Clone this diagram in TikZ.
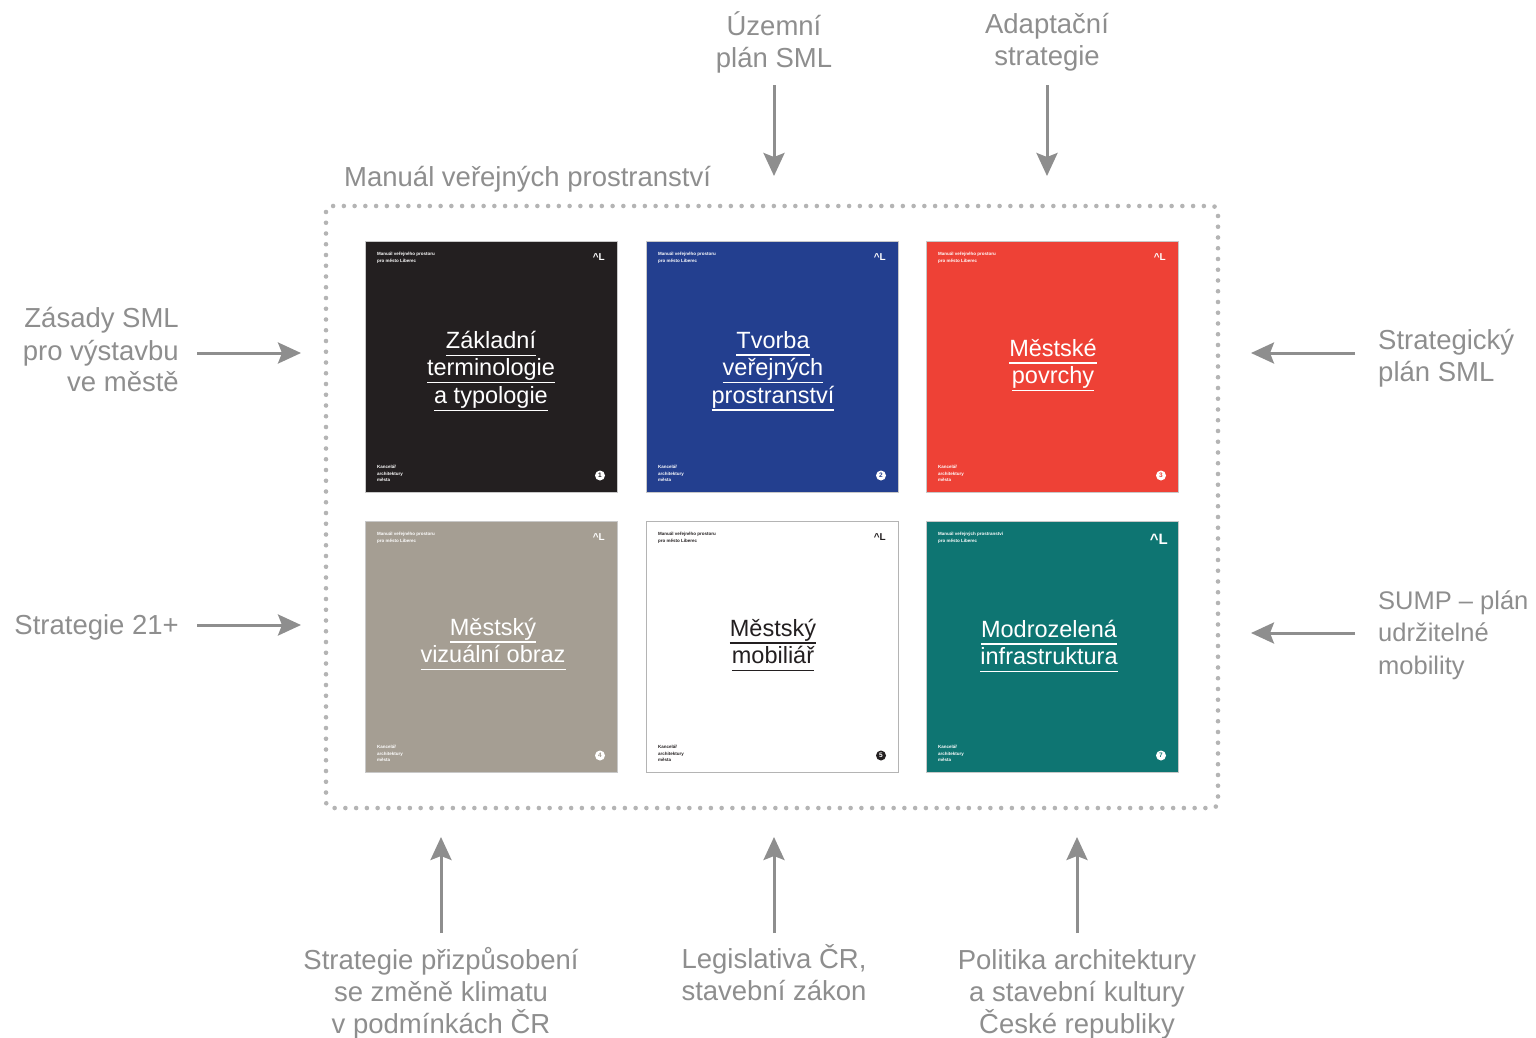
\documentclass[tikz,border=0pt]{standalone}
\usepackage{fontspec}
\setmainfont{Liberation Sans}
\usetikzlibrary{arrows.meta}

\definecolor{labelgray}{HTML}{8E8E8E}
\definecolor{dotgray}{HTML}{B4B4B4}
\definecolor{coverline}{HTML}{C8C8C8}
\definecolor{coverblack}{HTML}{231F20}
\definecolor{coverblue}{HTML}{233F8F}
\definecolor{coverred}{HTML}{EE4136}
\definecolor{coverbeige}{HTML}{A59E93}
\definecolor{coverteal}{HTML}{0E7572}

% underlined title line, rule at a fixed depth
\newcommand{\ulword}[1]{\setbox0\hbox{#1}\rlap{\rule[-7.5pt]{\wd0}{1.3pt}}\box0}

\begin{document}
\begin{tikzpicture}
[x=1pt, y=-1pt, every node/.style={inner sep=0pt},
 sidetext/.style={text=labelgray, font=\fontsize{27.5}{32}\selectfont},
 coverbox/.style={rectangle, minimum width=252pt, minimum height=251pt, draw=coverline, line width=0.8pt},
 covertitle/.style={font=\fontsize{23.5}{27.5}\selectfont, align=center},
 topnote/.style={anchor=north west, align=left, font=\fontsize{4.5}{6.5}\selectfont\bfseries},
 footnote/.style={anchor=south west, align=left, font=\fontsize{4.5}{6.5}\selectfont\bfseries},
 logo/.style={anchor=north east, font=\fontsize{10}{10}\selectfont\bfseries},
 badge/.style={circle, minimum size=10pt, font=\fontsize{6.5}{6.5}\selectfont\bfseries},
 arrowline/.style={line width=3pt, color=labelgray, -{Stealth[length=23pt, width=21pt, inset=4pt]}},
 dotframe/.style={line width=4.6pt, color=dotgray, line cap=round, dash pattern=on 0pt off 10.75pt, rounded corners=6pt}]
\useasboundingbox (0,0) rectangle (1536,1037);

% frame round the manual
\draw [dotframe] (326,206) rectangle (1218,808);
\node (manual) [sidetext, anchor=west] at (344,179) {Manuál veřejných prostranství};

% covers, first row
\node (c1) [coverbox, fill=coverblack] at (491,366.5) {};
\node (c1title) [covertitle, text=white] at (491,371) {\ulword{Základní}\\\ulword{terminologie}\\\ulword{a typologie}};
\node (c1top) [topnote, text=white] at (377,252) {Manuál veřejného prostoru\\pro město Liberec};
\node (c1logo) [logo, text=white] at (605,253) {\textasciicircum L};
\node (c1foot) [footnote, text=white] at (377,482) {Kancelář\\architektury\\města};
\node (c1num) [badge, fill=white, text=coverblack] at (600,475.5) {1};

\node (c2) [coverbox, fill=coverblue] at (772,366.5) {};
\node (c2title) [covertitle, text=white] at (773,371) {\ulword{Tvorba}\\\ulword{veřejných}\\\ulword{prostranství}};
\node (c2top) [topnote, text=white] at (658,252) {Manuál veřejného prostoru\\pro město Liberec};
\node (c2logo) [logo, text=white] at (886,253) {\textasciicircum L};
\node (c2foot) [footnote, text=white] at (658,482) {Kancelář\\architektury\\města};
\node (c2num) [badge, fill=white, text=coverblue] at (881,475.5) {2};

\node (c3) [coverbox, fill=coverred] at (1052,366.5) {};
\node (c3title) [covertitle, text=white] at (1053,365) {\ulword{Městské}\\\ulword{povrchy}};
\node (c3top) [topnote, text=white] at (938,252) {Manuál veřejného prostoru\\pro město Liberec};
\node (c3logo) [logo, text=white] at (1166,253) {\textasciicircum L};
\node (c3foot) [footnote, text=white] at (938,482) {Kancelář\\architektury\\města};
\node (c3num) [badge, fill=white, text=coverred] at (1161,475.5) {3};

% covers, second row
\node (c4) [coverbox, fill=coverbeige] at (491,646.5) {};
\node (c4title) [covertitle, text=white] at (493,644) {\ulword{Městský}\\\ulword{vizuální obraz}};
\node (c4top) [topnote, text=white] at (377,532) {Manuál veřejného prostoru\\pro město Liberec};
\node (c4logo) [logo, text=white] at (605,533) {\textasciicircum L};
\node (c4foot) [footnote, text=white] at (377,762) {Kancelář\\architektury\\města};
\node (c4num) [badge, fill=white, text=coverbeige] at (600,755.5) {4};

\node (c5) [coverbox, fill=white, draw=dotgray] at (772,646.5) {};
\node (c5title) [covertitle, text=coverblack] at (773,645) {\ulword{Městský}\\\ulword{mobiliář}};
\node (c5top) [topnote, text=coverblack] at (658,532) {Manuál veřejného prostoru\\pro město Liberec};
\node (c5logo) [logo, text=coverblack] at (886,533) {\textasciicircum L};
\node (c5foot) [footnote, text=coverblack] at (658,762) {Kancelář\\architektury\\města};
\node (c5num) [badge, fill=coverblack, text=white] at (881,755.5) {5};

\node (c6) [coverbox, fill=coverteal] at (1052,646.5) {};
\node (c6title) [covertitle, text=white] at (1049,646) {\ulword{Modrozelená}\\\ulword{infrastruktura}};
\node (c6top) [topnote, text=white] at (938,532) {Manuál veřejných prostranství\\pro město Liberec};
\node (c6logo) [logo, text=white, font=\fontsize{15}{15}\selectfont\bfseries] at (1168,534) {\textasciicircum L};
\node (c6foot) [footnote, text=white] at (938,762) {Kancelář\\architektury\\města};
\node (c6num) [badge, fill=white, text=coverteal] at (1161,755.5) {7};

% sources above
\node (uzemni) [sidetext, align=center] at (774,42) {Územní\\plán SML};
\node (adaptacni) [sidetext, align=center] at (1047,42) {Adaptační\\strategie};
\coordinate (uzemni-a) at (774,85);
\coordinate (uzemni-b) at (774,176);
\coordinate (adaptacni-a) at (1047,85);
\coordinate (adaptacni-b) at (1047,176);
\draw [arrowline] (uzemni-a) -- (uzemni-b);
\draw [arrowline] (adaptacni-a) -- (adaptacni-b);

% sources on the left
\node (zasady) [sidetext, align=right, anchor=east] at (179,350) {Zásady SML\\pro výstavbu\\ve městě};
\node (strat21) [sidetext, anchor=east] at (179,627) {Strategie 21+};
\coordinate (zasady-a) at (197,353);
\coordinate (zasady-b) at (301,353);
\coordinate (strat21-a) at (197,625);
\coordinate (strat21-b) at (301,625);
\draw [arrowline] (zasady-a) -- (zasady-b);
\draw [arrowline] (strat21-a) -- (strat21-b);

% sources on the right
\node (stratplan) [sidetext, align=left, anchor=west] at (1378,358) {Strategický\\plán SML};
\node (sump) [sidetext, align=left, anchor=west, font=\fontsize{25.5}{32.5}\selectfont] at (1378,635) {SUMP – plán\\udržitelné\\mobility};
\coordinate (stratplan-a) at (1355,353);
\coordinate (stratplan-b) at (1251,353);
\coordinate (sump-a) at (1355,633);
\coordinate (sump-b) at (1251,633);
\draw [arrowline] (stratplan-a) -- (stratplan-b);
\draw [arrowline] (sump-a) -- (sump-b);

% sources below
\node (klima) [sidetext, align=center] at (441,993) {Strategie přizpůsobení\\se změně klimatu\\v podmínkách ČR};
\node (legislativa) [sidetext, align=center] at (774,973) {Legislativa ČR,\\stavební zákon};
\node (politika) [sidetext, align=center] at (1077,994) {Politika architektury\\a stavební kultury\\České republiky};
\coordinate (klima-a) at (441,933);
\coordinate (klima-b) at (441,837);
\coordinate (legislativa-a) at (774,933);
\coordinate (legislativa-b) at (774,837);
\coordinate (politika-a) at (1077,933);
\coordinate (politika-b) at (1077,837);
\draw [arrowline] (klima-a) -- (klima-b);
\draw [arrowline] (legislativa-a) -- (legislativa-b);
\draw [arrowline] (politika-a) -- (politika-b);
\end{tikzpicture}
\end{document}
